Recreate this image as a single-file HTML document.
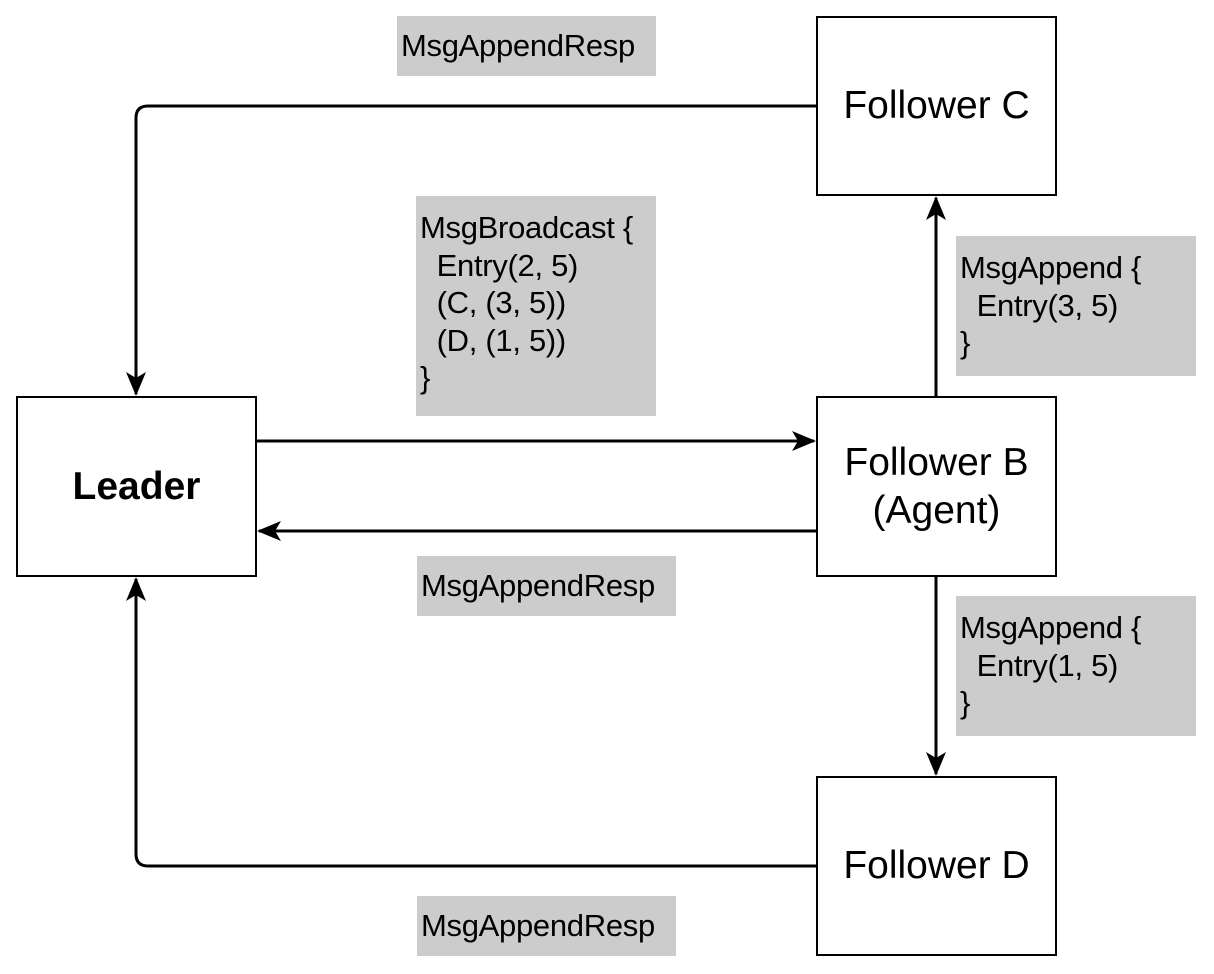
<!DOCTYPE html>
<html><head><meta charset="utf-8"><style>
html,body{margin:0;padding:0;background:#fff;}
body{width:1214px;height:974px;position:relative;overflow:hidden;font-family:"Liberation Sans",Arial,sans-serif;}
.box{position:absolute;border:2px solid #000;box-sizing:border-box;background:#fff;display:flex;align-items:center;justify-content:center;text-align:center;font-size:39px;line-height:48px;color:#000;}
.lab{position:absolute;background:#cccccc;font-size:31px;line-height:37.5px;color:#000;box-sizing:border-box;white-space:pre;letter-spacing:-0.3px;}
svg{position:absolute;left:0;top:0;}
</style></head><body>
<svg width="1214" height="974" viewBox="0 0 1214 974">
<defs>
<marker id="b" markerWidth="24" markerHeight="24" refX="22" refY="12" orient="auto" markerUnits="userSpaceOnUse" viewBox="0 0 24 24"><path d="M0,2 L24,12 L0,22 L6,12 z" fill="#000"/></marker></defs>
<g fill="none" stroke="#000" stroke-width="3">
<path d="M816,106 H148 Q136,106 136,118 V394" marker-end="url(#b)"/>
<path d="M257,441 H814" marker-end="url(#b)"/>
<path d="M816,531 H259" marker-end="url(#b)"/>
<path d="M936,396 V198" marker-end="url(#b)"/>
<path d="M936,577 V774" marker-end="url(#b)"/>
<path d="M816,866 H148 Q136,866 136,854 V579" marker-end="url(#b)"/>
</g>
</svg>
<div class="lab" style="left:397px;top:16px;width:259px;height:60px;padding:11px 0 0 4px;">MsgAppendResp</div>
<div class="lab" style="left:416px;top:196px;width:240px;height:220px;padding:13px 0 0 4px;">MsgBroadcast {
  Entry(2, 5)
  (C, (3, 5))
  (D, (1, 5))
}</div>
<div class="lab" style="left:956px;top:236px;width:240px;height:140px;padding:13px 0 0 4px;">MsgAppend {
  Entry(3, 5)
}</div>
<div class="lab" style="left:417px;top:556px;width:259px;height:60px;padding:11px 0 0 4px;">MsgAppendResp</div>
<div class="lab" style="left:956px;top:596px;width:240px;height:140px;padding:13px 0 0 4px;">MsgAppend {
  Entry(1, 5)
}</div>
<div class="lab" style="left:417px;top:896px;width:259px;height:60px;padding:11px 0 0 4px;">MsgAppendResp</div>
<div class="box" style="left:816px;top:16px;width:241px;height:180px;">Follower C</div>
<div class="box" style="left:16px;top:396px;width:241px;height:181px;font-weight:bold;">Leader</div>
<div class="box" style="left:816px;top:396px;width:241px;height:181px;">Follower B<br>(Agent)</div>
<div class="box" style="left:816px;top:776px;width:241px;height:180px;">Follower D</div>
</body></html>
